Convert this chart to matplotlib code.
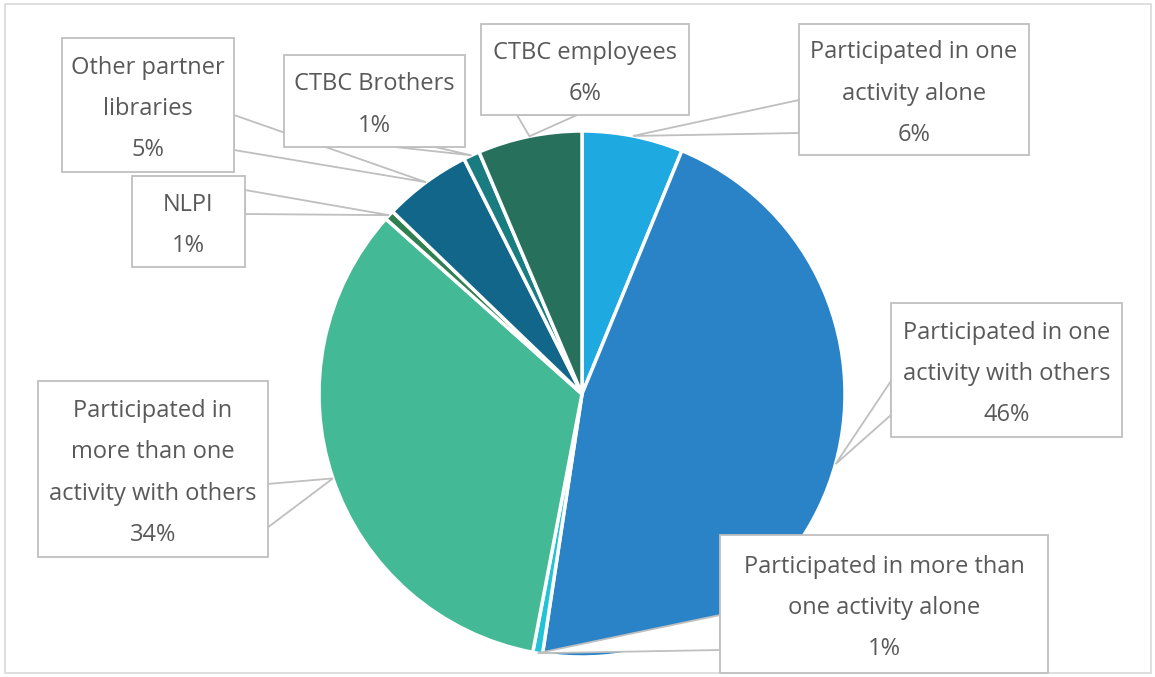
import matplotlib.pyplot as plt
from matplotlib.patches import Polygon, Rectangle
import numpy as np

labels = ['Participated in one\nactivity alone',
          'Participated in one\nactivity with others',
          'Participated in more than\none activity alone',
          'Participated in\nmore than one\nactivity with others',
          'NLPI',
          'Other partner\nlibraries',
          'CTBC Brothers',
          'CTBC employees']
values = [6.2, 46.2, 0.6, 33.6, 0.6, 5.4, 1.0, 6.4]
pct_text = ['6%', '46%', '1%', '34%', '1%', '5%', '1%', '6%']
colors = ['#1FA9E1', '#2983C6', '#22C3D8', '#43B995',
          '#2E8050', '#11668A', '#187C80', '#27715C']

# callout boxes in pixel coords (left, top, right, bottom) and pointer base points
boxes = [(799, 24, 1029, 155), (891, 303, 1122, 437), (720, 535, 1048, 673),
         (38, 381, 268, 557), (132, 176, 245, 267), (62, 38, 234, 172),
         (284, 55, 465, 147), (481, 24, 689, 115)]
bases = [((799, 100), (799, 133)), ((891, 381), (891, 415)), ((720, 615), (720, 650)),
         ((267, 484), (267, 528)), ((245, 190), (245, 214)), ((234, 115), (234, 150)),
         ((395, 147), (435, 147)), ((517, 115), (577, 115))]

W, H = 1155, 677
cx, cy, r = 582, 394, 263

fig = plt.figure(figsize=(W / 100, H / 100), dpi=100)
ax = fig.add_axes([0, 0, 1, 1])
ax.pie(values, colors=colors, startangle=90, counterclock=False,
       center=(cx, H - cy), radius=r,
       wedgeprops=dict(edgecolor='white', linewidth=2.5))
ax.set_xlim(0, W)
ax.set_ylim(0, H)
ax.set_aspect('auto')
ax.axis('off')

# outer border
ax.add_patch(Rectangle((4.5, H - 673), 1146, 669, fill=False,
                       edgecolor='#D9D9D9', linewidth=1.2, zorder=1))

cum = np.cumsum([0] + values)
edge = '#BFBFBF'
for i, lab in enumerate(labels):
    mid = (cum[i] + cum[i + 1]) / 2 / cum[-1]
    ang = np.deg2rad(90 - 360 * mid)
    tip = (cx + r * np.cos(ang), H - cy + r * np.sin(ang))
    (b1, b2) = bases[i]
    tri = Polygon([(b1[0], H - b1[1]), tip, (b2[0], H - b2[1])], closed=True,
                  facecolor='white', edgecolor=edge, linewidth=1.3, zorder=3 + 2 * i)
    ax.add_patch(tri)
    l, t, rr, b = boxes[i]
    ax.add_patch(Rectangle((l, H - b), rr - l, b - t, facecolor='white',
                           edgecolor=edge, linewidth=1.3, zorder=4 + 2 * i))
    ax.text((l + rr) / 2, H - (t + b) / 2 - 4, lab + '\n' + pct_text[i],
            ha='center', va='center', fontsize=17, color='#595959',
            family='Open Sans', linespacing=1.95, zorder=4 + 2 * i)

fig.savefig('out.png', dpi=100)
